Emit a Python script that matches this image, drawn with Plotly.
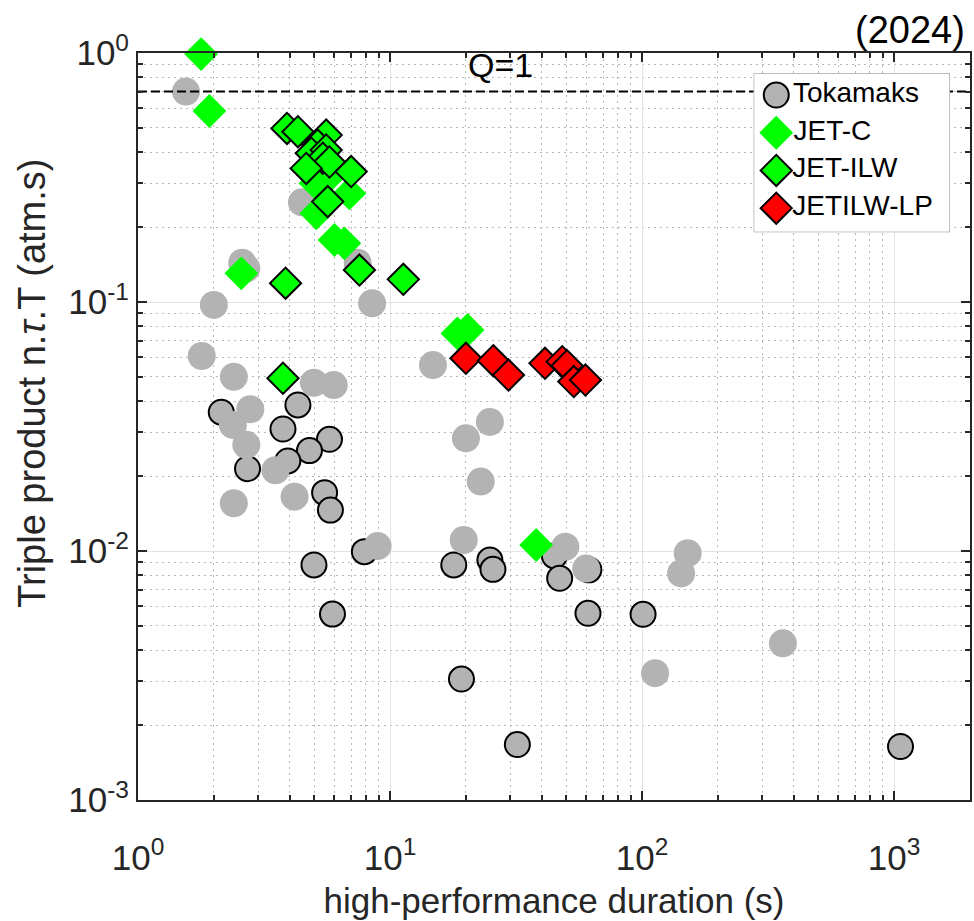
import math
import plotly.graph_objects as go

# ---- data: duration of high-performance phase (s) vs triple product (atm.s) ----
# Tokamak discharges, outlined markers
tok_x = [2.14, 4.31, 3.76, 5.75, 4.79, 3.93, 2.72, 5.50, 5.80, 7.91, 4.99, 5.91,
         17.9, 24.9, 25.6, 44.9, 47.1, 61.5, 61.0, 100.9, 19.2, 32.0, 1060]
tok_y = [0.0361, 0.0386, 0.0309, 0.0281, 0.0253, 0.0230, 0.0214, 0.01715, 0.0146,
         0.00994, 0.00879, 0.00558, 0.00879, 0.0092, 0.00844, 0.00955, 0.00777,
         0.0084, 0.00562, 0.00557, 0.00306, 0.00167, 0.00164]

# further tokamak discharges, plain markers
tok_plain_x = [1.55, 4.47, 2.59, 2.69, 7.44, 2.00, 8.49, 1.79, 2.40, 4.99, 5.98, 14.8,
               2.79, 2.38, 2.69, 3.51, 2.40, 4.18, 8.93, 24.9, 20.0, 22.9, 19.6, 49.6,
               60.0, 151.7, 142.8, 362, 112.6]
tok_plain_y = [0.70, 0.2514, 0.1438, 0.1366, 0.1438, 0.0973, 0.0988, 0.0607, 0.0501,
               0.0474, 0.0464, 0.0558, 0.0371, 0.0321, 0.0267, 0.0211, 0.01555, 0.01652,
               0.01047, 0.033, 0.02836, 0.019, 0.01107, 0.0104, 0.0085, 0.0098, 0.00813,
               0.00426, 0.00323]

# JET carbon wall
jetc_x = [1.78, 1.92, 2.57, 5.10, 6.02, 6.59, 6.90, 5.06, 5.65, 18.5, 20.3, 38.0]
jetc_y = [0.99, 0.585, 0.1304, 0.227, 0.1774, 0.172, 0.273, 0.30, 0.315, 0.0748,
          0.0772, 0.01057]

# JET ITER-like wall
jetilw_x = [3.90, 4.31, 5.58, 5.16, 4.87, 5.58, 5.41, 5.75, 4.65, 7.01, 5.66, 7.56,
            11.29, 3.85, 3.76]
jetilw_y = [0.498, 0.483, 0.468, 0.427, 0.396, 0.408, 0.378, 0.365, 0.344, 0.334,
            0.253, 0.1344, 0.1233, 0.119, 0.0494]

# JET ITER-like wall, long pulses
jetlp_x = [20.0, 25.7, 29.5, 41.2, 48.2, 50.4, 53.6, 59.6]
jetlp_y = [0.0594, 0.0581, 0.0509, 0.0567, 0.0576, 0.0555, 0.0479, 0.0486]

Q1_LEVEL = 0.7          # triple product for Q = 1
X_LIMITS = [1, 2000]
Y_LIMITS = [1e-3, 1]

x_tick_vals = [1, 10, 100, 1000]
x_tick_text = ["10<sup>0</sup>", "10<sup>1</sup>", "10<sup>2</sup>", "10<sup>3</sup>"]
y_tick_vals = [1e-3, 1e-2, 1e-1, 1]
y_tick_text = ["10<sup>-3</sup>", "10<sup>-2</sup>", "10<sup>-1</sup>", "10<sup>0</sup>"]

legend_labels = ["Tokamaks", "JET-C", "JET-ILW", "JETILW-LP"]

# minor ticks at 2..9 of each decade inside the limits
def minor_vals(lo, hi):
    out = []
    for e in range(int(math.floor(math.log10(lo))), int(math.ceil(math.log10(hi))) + 1):
        for m in range(2, 10):
            v = m * 10.0 ** e
            if lo < v < hi:
                out.append(v)
    return out

GRAY = "#b3b3b3"
GREEN = "#00ff00"
RED = "#ff0000"
EDGE = "black"
AX_COLOR = "#262626"
FONT = "Liberation Sans, Arial, Helvetica, sans-serif"

marker_styles = {
    "Tokamaks": dict(symbol="circle", size=25, color=GRAY, line=dict(color=EDGE, width=2)),
    "JET-C": dict(symbol="diamond", size=26, color=GREEN, line=dict(width=0)),
    "JET-ILW": dict(symbol="diamond", size=24, color=GREEN, line=dict(color=EDGE, width=2)),
    "JETILW-LP": dict(symbol="diamond", size=24, color=RED, line=dict(color=EDGE, width=2)),
}

fig = go.Figure()

fig.add_trace(go.Scatter(
    x=tok_x, y=tok_y, mode="markers", name="Tokamaks", cliponaxis=False,
    marker=marker_styles["Tokamaks"],
))
fig.add_trace(go.Scatter(
    x=tok_plain_x, y=tok_plain_y, mode="markers", name="Tokamaks", cliponaxis=False,
    marker=dict(symbol="circle", size=28, color=GRAY, line=dict(width=0)),
))
fig.add_trace(go.Scatter(
    x=X_LIMITS, y=[Q1_LEVEL, Q1_LEVEL], mode="lines", name="Q=1", hoverinfo="skip",
    line=dict(color="black", width=2, dash="9px,4px"),
))
fig.add_trace(go.Scatter(
    x=jetc_x, y=jetc_y, mode="markers", name="JET-C", cliponaxis=False,
    marker=marker_styles["JET-C"],
))
fig.add_trace(go.Scatter(
    x=jetilw_x, y=jetilw_y, mode="markers", name="JET-ILW", cliponaxis=False,
    marker=marker_styles["JET-ILW"],
))
fig.add_trace(go.Scatter(
    x=jetlp_x, y=jetlp_y, mode="markers", name="JETILW-LP", cliponaxis=False,
    marker=marker_styles["JETILW-LP"],
))

# legend drawn on its own small axes so the symbols keep full size
for label in legend_labels:
    fig.add_trace(go.Scatter(
        x=[0.115], y=[label], xaxis="x2", yaxis="y2",
        mode="markers+text", text=[label], textposition="middle right",
        textfont=dict(size=28, color="black", family=FONT),
        marker=marker_styles[label], cliponaxis=False, hoverinfo="skip",
    ))

axis_common = dict(
    type="log",
    showline=True, linecolor=AX_COLOR, linewidth=2, mirror="allticks",
    ticks="inside", ticklen=9, tickwidth=2, tickcolor=AX_COLOR,
    showgrid=True, gridcolor="#e2e2e2", gridwidth=1,
    zeroline=False,
    tickfont=dict(size=35, color=AX_COLOR),
    tickmode="array",
)

fig.update_layout(
    xaxis=dict(
        **axis_common,
        range=[math.log10(X_LIMITS[0]), math.log10(X_LIMITS[1])],
        tickvals=x_tick_vals, ticktext=x_tick_text,
        ticklabelstandoff=26,
        minor=dict(tickvals=minor_vals(*X_LIMITS), ticks="inside", ticklen=5, tickwidth=1.5,
                   tickcolor=AX_COLOR, showgrid=True, gridcolor="#b8b8b8",
                   griddash="2px,4px", gridwidth=1),
        title=dict(text="high-performance duration (s)", font=dict(size=35, color=AX_COLOR),
                   standoff=12),
    ),
    yaxis=dict(
        **axis_common,
        range=[math.log10(Y_LIMITS[0]), math.log10(Y_LIMITS[1])],
        tickvals=y_tick_vals, ticktext=y_tick_text,
        minor=dict(tickvals=minor_vals(*Y_LIMITS), ticks="inside", ticklen=5, tickwidth=1.5,
                   tickcolor=AX_COLOR, showgrid=True, gridcolor="#b8b8b8",
                   griddash="2px,4px", gridwidth=1),
    ),
    # legend box axes
    xaxis2=dict(domain=[0.740, 0.976], anchor="y2", range=[0, 1], visible=False,
                fixedrange=True),
    yaxis2=dict(domain=[0.760, 0.973], anchor="x2", type="category",
                categoryorder="array", categoryarray=legend_labels[::-1],
                range=[-0.64, 3.58], visible=False, fixedrange=True),
    shapes=[dict(type="rect", xref="x2", yref="y2", x0=0, x1=1, y0=-0.64, y1=3.58,
                 layer="below", fillcolor="white", line=dict(color="#7a7a7a", width=1))],
    showlegend=False,
    width=974, height=921,
    margin=dict(l=138, r=2, t=53, b=121),
    paper_bgcolor="white", plot_bgcolor="white",
    font=dict(family=FONT, color=AX_COLOR),
)

# y-axis label
fig.add_annotation(
    x=-0.127, y=0.5576, xref="paper", yref="paper",
    text="Triple product n.<i>τ</i>.T (atm.s)", textangle=-90, showarrow=False,
    font=dict(size=38, color=AX_COLOR), xanchor="center", yanchor="middle",
)
fig.add_annotation(
    x=math.log10(27.5), y=math.log10(0.895), xref="x", yref="y",
    text="Q=1", showarrow=False, font=dict(size=34, color="black"),
    xanchor="center", yanchor="middle",
)
fig.add_annotation(
    x=0.996, y=1.031, xref="paper", yref="paper",
    text="(2024)", showarrow=False, font=dict(size=38, color="black"),
    xanchor="right", yanchor="middle",
)

fig.write_html("out.html")
